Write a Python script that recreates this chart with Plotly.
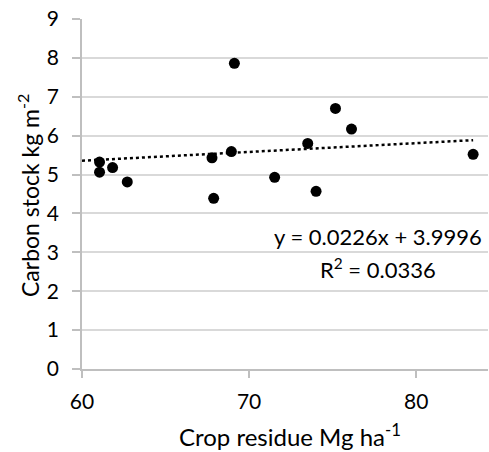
import plotly.graph_objects as go

crop_residue = [61.05, 61.05, 61.83, 62.71, 67.78, 67.88, 68.94, 69.12, 71.53, 73.51, 74.01, 75.17, 76.13, 83.41]
carbon_stock = [5.32, 5.06, 5.18, 4.81, 5.43, 4.39, 5.59, 7.86, 4.93, 5.80, 4.57, 6.70, 6.17, 5.52]
slope = 0.0226
intercept = 3.9996
trend_x = [60, 83.41]
trend_y = [slope * v + intercept for v in trend_x]
x_ticks = [60, 70, 80]
y_ticks = [0, 1, 2, 3, 4, 5, 6, 7, 8, 9]

FONT = "Lato"
L, R, T, B = 82, 1, 19, 83
W, H = 489, 452

fig = go.Figure()
fig.add_trace(go.Scatter(x=trend_x, y=trend_y, mode="lines",
                         line=dict(color="black", width=2.5, dash="dot"),
                         hoverinfo="skip", showlegend=False))
fig.add_trace(go.Scatter(x=crop_residue, y=carbon_stock, mode="markers",
                         marker=dict(color="black", size=11),
                         showlegend=False))

pw = W - L - R
ph = H - T - B


def px(xp, yp):
    return (xp - L) / pw, ((H - yp) - B) / ph


anns = [
    ("y = 0.0226x + 3.9996", 378, 237, 22, 0, "middle"),
    ("R<sup>2</sup> = 0.0336", 378, 268, 22, 0, "middle"),
    ("Crop residue Mg ha<sup>-1</sup>", 290, 452, 24, 0, "bottom"),
    ("Carbon stock kg m<sup>-2</sup>", 28, 196, 23, -90, "middle"),
]
annotations = []
for text, xp, yp, size, ang, ya in anns:
    ax, ay = px(xp, yp)
    annotations.append(dict(text=text, x=ax, y=ay, xref="paper", yref="paper",
                            showarrow=False, font=dict(family=FONT, size=size, color="black"),
                            textangle=ang, xanchor="center", yanchor=ya, borderpad=0))

fig.update_layout(
    width=W, height=H,
    margin=dict(l=L, r=R, t=T, b=B, autoexpand=False),
    paper_bgcolor="white", plot_bgcolor="white",
    font=dict(family=FONT, size=21, color="black"),
    xaxis=dict(range=[60, 84.3], tickvals=x_ticks, showgrid=False, zeroline=False,
               showline=True, linecolor="#bfbfbf", linewidth=1.5,
               ticks="outside", ticklen=7, tickcolor="#bfbfbf", tickwidth=1.5,
               automargin=False, ticklabelstandoff=6,
               tickfont=dict(family=FONT, size=21, color="black")),
    yaxis=dict(range=[0, 9], tickvals=y_ticks, showgrid=True, gridcolor="#d9d9d9", gridwidth=1.5,
               zeroline=False, showline=True, linecolor="#bfbfbf", linewidth=1.5,
               ticks="outside", ticklen=8, tickcolor="#bfbfbf", tickwidth=1.5,
               automargin=False, ticklabelstandoff=9,
               tickfont=dict(family=FONT, size=21, color="black")),
    annotations=annotations,
)

fig.write_html("out.html", config={"displayModeBar": False},
               post_script="document.body.style.margin='0';document.body.style.padding='0';")
